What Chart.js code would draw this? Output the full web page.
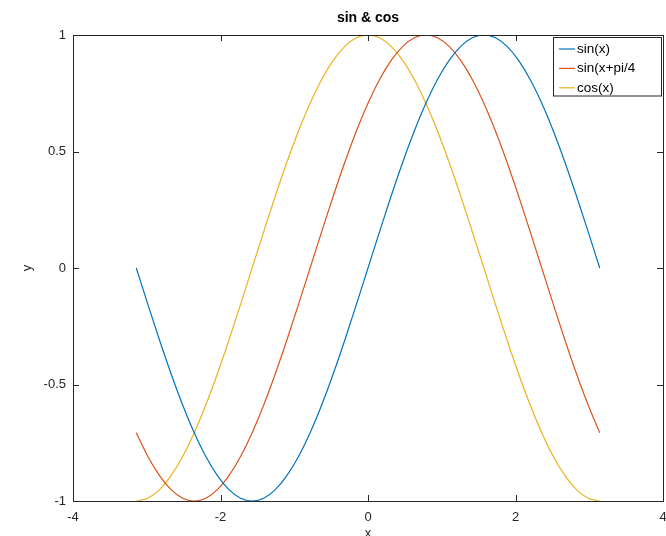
<!DOCTYPE html>
<html>
<head>
<meta charset="utf-8">
<script src="https://cdn.jsdelivr.net/npm/chart.js@4/dist/chart.umd.min.js"></script>
<style>
  html, body { margin: 0; padding: 0; background: #fff; }
  canvas { display: block; }
</style>
</head>
<body>
<canvas id="plot" width="666" height="536"></canvas>
<script>
// x runs from -pi to pi in steps of pi/20
let xs = [
  -3.142, -2.985, -2.827, -2.670, -2.513, -2.356, -2.199, -2.042, -1.885, -1.728,
  -1.571, -1.414, -1.257, -1.100, -0.942, -0.785, -0.628, -0.471, -0.314, -0.157,
  0,
  0.157, 0.314, 0.471, 0.628, 0.785, 0.942, 1.100, 1.257, 1.414, 1.571,
  1.728, 1.885, 2.042, 2.199, 2.356, 2.513, 2.670, 2.827, 2.985, 3.142,
]
let sinVals = [
  0, -0.156, -0.309, -0.454, -0.588, -0.707, -0.809, -0.891, -0.951, -0.988,
  -1, -0.988, -0.951, -0.891, -0.809, -0.707, -0.588, -0.454, -0.309, -0.156,
  0,
  0.156, 0.309, 0.454, 0.588, 0.707, 0.809, 0.891, 0.951, 0.988, 1,
  0.988, 0.951, 0.891, 0.809, 0.707, 0.588, 0.454, 0.309, 0.156, 0,
]
let sinShiftVals = [
  -0.707, -0.809, -0.891, -0.951, -0.988, -1, -0.988, -0.951, -0.891, -0.809,
  -0.707, -0.588, -0.454, -0.309, -0.156, 0, 0.156, 0.309, 0.454, 0.588,
  0.707,
  0.809, 0.891, 0.951, 0.988, 1, 0.988, 0.951, 0.891, 0.809, 0.707,
  0.588, 0.454, 0.309, 0.156, 0, -0.156, -0.309, -0.454, -0.588, -0.707,
]
let cosVals = [
  -1, -0.988, -0.951, -0.891, -0.809, -0.707, -0.588, -0.454, -0.309, -0.156,
  0, 0.156, 0.309, 0.454, 0.588, 0.707, 0.809, 0.891, 0.951, 0.988,
  1,
  0.988, 0.951, 0.891, 0.809, 0.707, 0.588, 0.454, 0.309, 0.156, 0,
  -0.156, -0.309, -0.454, -0.588, -0.707, -0.809, -0.891, -0.951, -0.988, -1,
]
let seriesNames = ['sin(x)', 'sin(x+pi/4', 'cos(x)']
let seriesColours = ['#0072BD', '#D95319', '#EDB120']
let xTicks = [-4, -2, 0, 2, 4]
let yTicks = [-1, -0.5, 0, 0.5, 1]
let titleText = 'sin & cos'

let fontFamily = '"Liberation Sans", Arial, Helvetica, sans-serif'
let axisColour = '#262626'

function toPoints(ys) {
  let result = []
  for (let i = 0; i < xs.length; ++i) result.push({x: xs[i], y: ys[i]})
  return result
}

let datasets = [sinVals, sinShiftVals, cosVals].map((ys, i) => ({
  label: seriesNames[i],
  data: toPoints(ys),
  borderColor: seriesColours[i],
  backgroundColor: seriesColours[i],
  borderWidth: 1.2,
  pointRadius: 0,
  fill: false,
  cubicInterpolationMode: 'monotone',
}))

// box, inward ticks, title and legend in MATLAB style
let matlabFrame = {
  id: 'matlabFrame',
  afterDatasetsDraw(chart) {
    let {ctx, chartArea: a, scales} = chart
    ctx.save()
    ctx.strokeStyle = axisColour
    ctx.lineWidth = 1
    ctx.strokeRect(Math.round(a.left) + 0.5, Math.round(a.top) + 0.5,
      Math.round(a.right - a.left), Math.round(a.bottom - a.top))
    let tl = 6
    ctx.beginPath()
    for (let v of xTicks) {
      let px = Math.round(scales.x.getPixelForValue(v)) + 0.5
      ctx.moveTo(px, a.bottom); ctx.lineTo(px, a.bottom - tl)
      ctx.moveTo(px, a.top); ctx.lineTo(px, a.top + tl)
    }
    for (let v of yTicks) {
      let py = Math.round(scales.y.getPixelForValue(v)) + 0.5
      ctx.moveTo(a.left, py); ctx.lineTo(a.left + tl, py)
      ctx.moveTo(a.right, py); ctx.lineTo(a.right - tl, py)
    }
    ctx.stroke()

    // title over the middle of the axes
    ctx.fillStyle = '#000'
    ctx.font = 'bold 14px ' + fontFamily
    ctx.textAlign = 'center'
    ctx.textBaseline = 'middle'
    ctx.fillText(titleText, (a.left + a.right) / 2, 18)

    // legend, top right inside the axes
    let lx = 553.5, ly = 37.5, lw = 108, lh = 58.5
    ctx.fillStyle = '#fff'
    ctx.fillRect(lx, ly, lw, lh)
    ctx.strokeStyle = axisColour
    ctx.strokeRect(lx, ly, lw, lh)
    ctx.font = '13.5px ' + fontFamily
    ctx.textAlign = 'left'
    chart.data.datasets.forEach((ds, i) => {
      let cy = 49 + i * 19.4
      ctx.strokeStyle = ds.borderColor
      ctx.lineWidth = 1.2
      ctx.beginPath()
      ctx.moveTo(559, cy); ctx.lineTo(575, cy)
      ctx.stroke()
      ctx.fillStyle = '#000'
      ctx.fillText(ds.label, 577, cy)
    })
    ctx.restore()
  },
}

new Chart(document.getElementById('plot'), {
  type: 'line',
  data: {datasets: datasets},
  plugins: [matlabFrame],
  options: {
    responsive: false,
    animation: false,
    layout: {padding: {top: 35, right: 3, left: 0, bottom: 0}},
    plugins: {
      legend: {display: false},
      title: {display: false},
      tooltip: {enabled: false},
    },
    scales: {
      x: {
        type: 'linear',
        min: -4,
        max: 4,
        grid: {display: false, drawTicks: false},
        border: {display: false},
        ticks: {
          stepSize: 2,
          padding: 9,
          color: axisColour,
          font: {family: fontFamily, size: 13},
          callback: v => String(v),
        },
        title: {
          display: true,
          text: 'x',
          color: axisColour,
          padding: 0,
          font: {family: fontFamily, size: 13, lineHeight: 0.4},
        },
        afterFit(scale) {
          scale.height = 35
          scale.paddingLeft = 0
          scale.paddingRight = 0
        },
      },
      y: {
        min: -1,
        max: 1,
        grid: {display: false, drawTicks: false},
        border: {display: false},
        ticks: {
          stepSize: 0.5,
          padding: 7,
          color: axisColour,
          font: {family: fontFamily, size: 13},
          callback: v => String(v),
        },
        title: {
          display: true,
          text: 'y',
          color: axisColour,
          padding: {top: 20, bottom: 0},
          font: {family: fontFamily, size: 13},
        },
        afterFit(scale) {
          scale.width = 73
          scale.paddingTop = 0
          scale.paddingBottom = 0
        },
      },
    },
  },
})
</script>
</body>
</html>
